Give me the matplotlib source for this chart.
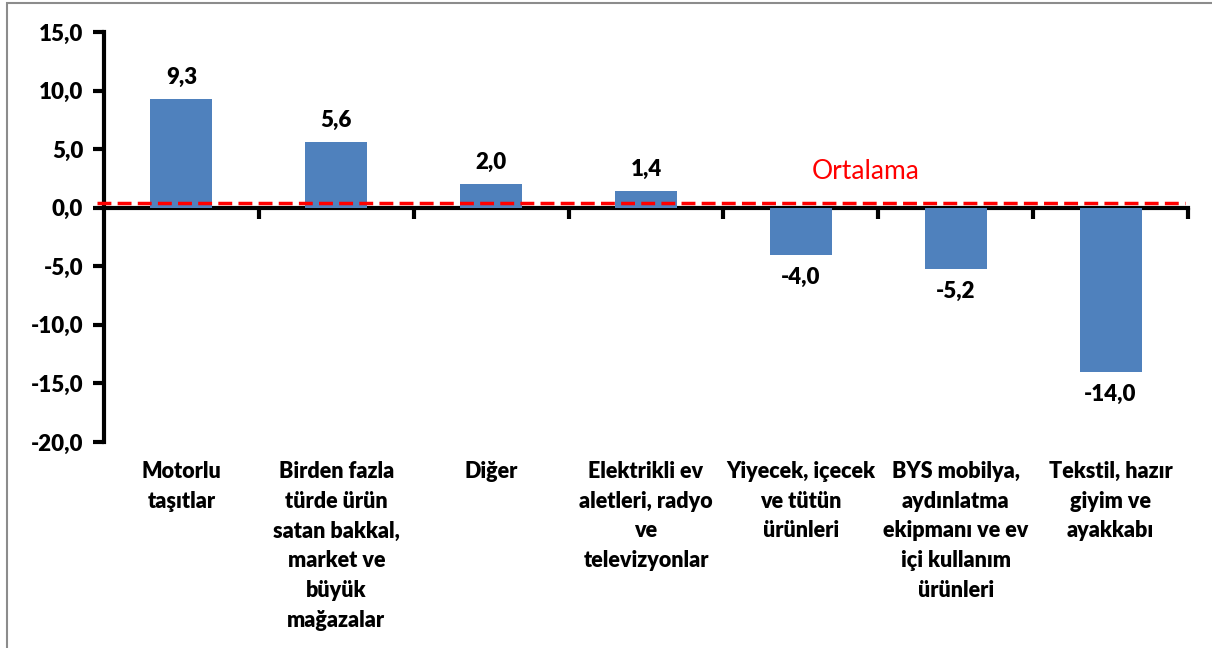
import matplotlib
matplotlib.use("Agg")
import matplotlib.pyplot as plt
from matplotlib.patches import Rectangle

categories = [
    "Motorlu\ntaşıtlar",
    "Birden fazla\ntürde ürün\nsatan bakkal,\nmarket ve\nbüyük\nmağazalar",
    "Diğer",
    "Elektrikli ev\naletleri, radyo\nve\ntelevizyonlar",
    "Yiyecek, içecek\nve tütün\nürünleri",
    "BYS mobilya,\naydınlatma\nekipmanı ve ev\niçi kullanım\nürünleri",
    "Tekstil, hazır\ngiyim ve\nayakkabı",
]
values = [9.3, 5.6, 2.0, 1.4, -4.0, -5.2, -14.0]
average = 0.4
average_label = "Ortalama"
yticks = [-20, -15, -10, -5, 0, 5, 10, 15]

plt.rcParams['font.family'] = ['Lato', 'DejaVu Sans']
WEIGHT = "heavy"

fig = plt.figure(figsize=(12.12, 6.48), dpi=100)
W, H = 1212, 648
ax = fig.add_axes([104 / W, 1 - 442 / H, (1188 - 104) / W, (442 - 32) / H])

x = list(range(len(categories)))
ax.bar(x, values, width=0.4, color="#4F81BD", zorder=2)

ax.set_xlim(-0.5, len(categories) - 0.5)
ax.set_ylim(-20, 15)

# spines
for s in ["top", "right"]:
    ax.spines[s].set_visible(False)
ax.spines["left"].set_linewidth(3)
ax.spines["bottom"].set_linewidth(3)
ax.spines["bottom"].set_position(("data", 0))
ax.spines["bottom"].set_zorder(1)

ax.set_yticks(yticks)
ax.set_yticklabels([f"{v:.1f}".replace(".", ",") for v in yticks],
                   fontsize=16, fontweight=WEIGHT)
ax.tick_params(axis="y", direction="out", length=8, width=3, pad=7)

ax.set_xticks(x)
ax.set_xticklabels([])
ax.tick_params(axis="x", which="major", length=0)
ax.set_xticks([i + 0.5 for i in range(len(categories))], minor=True)
ax.tick_params(axis="x", which="minor", direction="out", length=8, width=3)

# category labels
for xi, lab in zip(x, categories):
    ax.text(xi, -21.6, lab, ha="center", va="top",
            fontsize=15.5, fontweight=WEIGHT, linespacing=1.52,
            clip_on=False)

# value labels
for xi, v in zip(x, values):
    txt = f"{v:.1f}".replace(".", ",")
    if v >= 0:
        ax.annotate(txt, (xi, v), xytext=(0, 8), textcoords="offset points",
                    ha="center", va="bottom", fontsize=16, fontweight=WEIGHT)
    else:
        ax.annotate(txt, (xi, v), xytext=(0, -9), textcoords="offset points",
                    ha="center", va="top", fontsize=16, fontweight=WEIGHT)

# average line
ax.axhline(average, xmin=-0.006, xmax=0.997, color="red", lw=2.5,
           ls=(0, (4, 1.8)), clip_on=False, zorder=3)
ax.text(4.42, 3.1, average_label, color="red", fontsize=19, ha="center",
        va="center")

# figure border (top and left visible)
fig.patches.append(Rectangle((7 / W, -0.1), 1.2, 1 - 3 / H + 0.1,
                             transform=fig.transFigure, fill=False,
                             edgecolor="#8c8c8c", lw=1.5))

fig.savefig("out.png", dpi=100)
